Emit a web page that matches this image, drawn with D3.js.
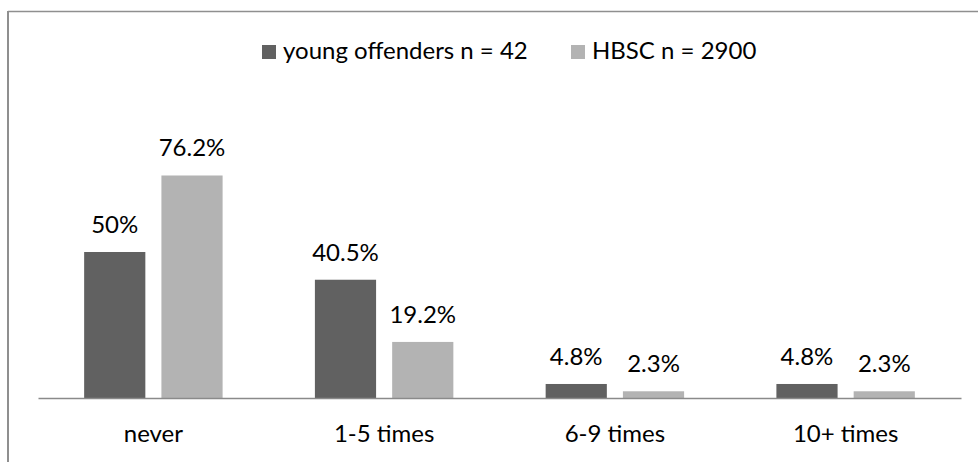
<!DOCTYPE html>
<html>
<head>
<meta charset="utf-8">
<script src="https://cdn.jsdelivr.net/npm/d3@7"></script>
<style>
  html, body { margin: 0; padding: 0; background: #fff; }
  svg { display: block; }
  text { font-family: Lato, "Open Sans", sans-serif; fill: #000; }
</style>
</head>
<body>
<svg id="chart" width="978" height="462"></svg>
<script>
const categories = ["never", "1-5 times", "6-9 times", "10+ times"];
const seriesNames = ["young offenders n = 42", "HBSC n = 2900"];
const youngOffenders = [50, 40.5, 4.8, 4.8];
const hbsc = [76.2, 19.2, 2.3, 2.3];
const valueLabels = [["50%", "40.5%", "4.8%", "4.8%"], ["76.2%", "19.2%", "2.3%", "2.3%"]];
const colors = ["#616161", "#b3b3b3"];

const seriesValues = [youngOffenders, hbsc];
const svg = d3.select("#chart");
const W = 978, H = 462;

// outer frame (top and left edges visible)
svg.append("line").attr("x1", 8).attr("x2", W).attr("y1", 11.5).attr("y2", 11.5)
  .attr("stroke", "#8f8f8f").attr("stroke-width", 1.5);
svg.append("line").attr("x1", 8).attr("x2", 8).attr("y1", 11).attr("y2", H)
  .attr("stroke", "#8f8f8f").attr("stroke-width", 2);

const x0 = d3.scaleBand().domain(categories).range([38, 961]).padding(0);
const bw = x0.bandwidth();
const x1 = d3.scaleBand().domain(d3.range(seriesNames.length))
  .range([bw * 0.2, bw * 0.8]).paddingInner(0.208).paddingOuter(0);
const y = d3.scaleLinear().domain([0, 80]).range([398, 398 - 2.92 * 80]);

const data = [];
categories.forEach((c, i) => {
  seriesValues.forEach((vals, s) => {
    data.push({ cat: c, s: s, v: vals[i], label: valueLabels[s][i] });
  });
});

svg.append("g").selectAll("rect").data(data).join("rect")
  .attr("x", d => x0(d.cat) + x1(d.s))
  .attr("width", x1.bandwidth())
  .attr("y", d => y(d.v))
  .attr("height", d => y(0) - y(d.v))
  .attr("fill", d => colors[d.s]);

svg.append("g").selectAll("text").data(data).join("text")
  .attr("x", d => x0(d.cat) + x1(d.s) + x1.bandwidth() / 2)
  .attr("y", d => y(d.v) - 19)
  .attr("text-anchor", "middle")
  .attr("font-size", 24)
  .text(d => d.label);

// x axis
const xAxis = d3.axisBottom(x0).tickSize(0).tickPadding(0);
const gx = svg.append("g").attr("transform", `translate(0,${y(0)})`).call(xAxis);
gx.select(".domain").attr("stroke", "#8a8a8a").attr("stroke-width", 1.5);
gx.selectAll("text").attr("font-size", 24).attr("dy", null).attr("y", 44)
  .attr("font-family", "Lato, 'Open Sans', sans-serif").attr("fill", "#000");

// legend
const legendX = [262, 571];
const lg = svg.append("g").selectAll("g").data(seriesNames).join("g")
  .attr("transform", (d, i) => `translate(${legendX[i]},0)`);
lg.append("rect").attr("x", 0).attr("y", 45).attr("width", 14).attr("height", 14)
  .attr("fill", (d, i) => colors[i]);
lg.append("text").attr("x", 21).attr("y", 59).attr("font-size", 24).text(d => d);
</script>
</body>
</html>
